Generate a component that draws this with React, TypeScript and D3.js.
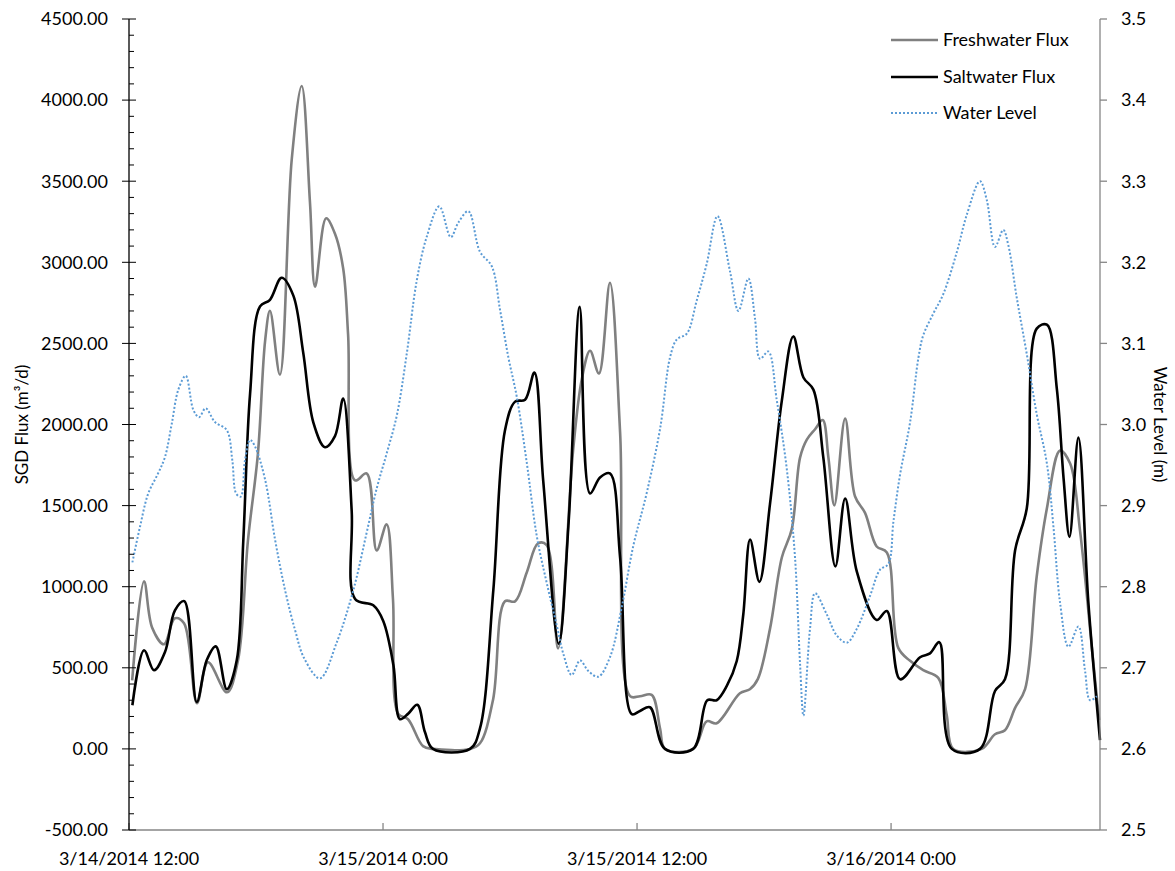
import React from "react";
import * as d3 from "d3";

// Hours after 3/14/2014 12:00 and values
const freshHours = [0.15, 0.71, 1.09, 1.65, 2.17, 2.6, 3.21, 3.73, 4.63, 5.15, 5.62, 6.09, 6.43, 6.66, 7.13, 7.69, 8.16, 8.55, 8.79, 9.31, 9.73, 10.12, 10.35, 10.68, 11.23, 11.7, 12.17, 12.47, 12.72, 13.18, 13.89, 14.36, 16.11, 16.58, 17.2, 17.76, 18.24, 18.79, 19.32, 19.73, 20.27, 20.98, 21.39, 21.78, 22.2, 22.72, 23.2, 23.67, 24.14, 24.69, 25.09, 25.32, 26.65, 27.29, 27.76, 28.86, 29.33, 29.71, 30.28, 30.84, 31.31, 31.7, 32.02, 32.41, 32.77, 33.04, 33.32, 33.83, 34.3, 34.77, 35.32, 35.8, 36.34, 36.9, 37.52, 38.23, 38.63, 38.94, 40.28, 40.91, 41.38, 41.86, 42.33, 42.88, 43.36, 43.98, 44.46, 44.93, 45.54, 45.83];
const freshFlux = [423, 1033, 749, 645, 805, 774, 281, 534, 349, 546, 1285, 1821, 2516, 2701, 2307, 3638, 4087, 3367, 2849, 3271, 3176, 2960, 2554, 1655, 1698, 1224, 1384, 924, 216, 183, 17, 0, 0, 35, 305, 910, 910, 1088, 1267, 1257, 620, 1840, 2279, 2455, 2314, 2874, 1950, 325, 325, 333, 124, 0, 0, 170, 158, 343, 368, 432, 740, 1180, 1355, 1796, 1907, 1971, 2027, 1796, 1501, 2036, 1556, 1455, 1248, 1211, 623, 543, 485, 438, 207, 0, 0, 90, 115, 253, 368, 1063, 1482, 1839, 1759, 1341, 552, 177];

const saltHours = [0.16, 0.71, 1.18, 1.7, 2.17, 2.61, 3.2, 3.67, 4.1, 4.62, 5.09, 5.4, 5.72, 6.19, 6.66, 7.21, 7.76, 8.23, 8.71, 9.26, 9.73, 10.12, 10.52, 10.68, 11.54, 12.01, 12.49, 12.8, 13.18, 13.62, 13.98, 14.36, 16.11, 16.58, 17.21, 17.76, 18.24, 18.71, 19.15, 19.57, 20.3, 20.77, 21.29, 21.78, 22.25, 22.72, 23.2, 23.75, 24.14, 24.61, 25.32, 26.65, 27.32, 27.76, 28.24, 28.71, 29.02, 29.34, 29.78, 30.28, 30.84, 31.38, 31.86, 32.33, 32.8, 33.37, 33.83, 34.38, 35.32, 35.8, 36.43, 37.37, 37.84, 38.28, 38.87, 40.2, 40.91, 41.38, 41.86, 42.41, 42.88, 43.36, 43.83, 44.15, 44.43, 44.85, 45.32, 45.87];
const saltFlux = [269, 608, 485, 597, 854, 911, 289, 546, 632, 368, 546, 1285, 2190, 2728, 2769, 2905, 2796, 2443, 2012, 1860, 1928, 2160, 1467, 924, 885, 789, 517, 183, 216, 272, 104, 0, 0, 127, 977, 1963, 2141, 2153, 2320, 1649, 648, 1402, 2726, 1575, 1673, 1698, 1180, 214, 234, 257, 0, 0, 300, 300, 388, 542, 830, 1291, 1030, 1509, 2147, 2543, 2290, 2215, 1796, 1125, 1544, 1094, 795, 850, 429, 565, 589, 658, 0, 0, 357, 429, 1225, 1482, 2591, 2615, 2221, 1667, 1307, 1919, 903, 54];

const levelHours = [0.16, 0.52, 0.91, 1.38, 1.7, 2.02, 2.33, 2.68, 3.04, 3.31, 3.62, 4.06, 4.62, 4.88, 5.06, 5.28, 5.48, 5.72, 5.95, 6.43, 6.9, 7.37, 7.84, 8.27, 9.02, 9.81, 10.6, 11.23, 11.7, 12.17, 12.65, 13.12, 13.59, 14.06, 14.66, 15.2, 15.56, 16.03, 16.58, 17.14, 17.53, 17.92, 18.32, 18.79, 19.26, 19.73, 20.21, 20.52, 20.91, 21.31, 21.7, 22.17, 22.72, 23.28, 23.82, 24.46, 25.09, 25.56, 25.88, 26.35, 26.82, 27.29, 27.8, 28.39, 28.79, 29.26, 29.57, 29.81, 30.2, 30.6, 31.07, 31.46, 31.7, 31.86, 32.17, 32.41, 32.96, 33.43, 33.91, 34.38, 35.01, 35.48, 35.87, 36.11, 36.43, 36.9, 37.29, 37.52, 38.0, 38.47, 39.1, 39.57, 40.2, 40.52, 40.91, 41.3, 41.54, 41.94, 42.41, 42.88, 43.36, 43.67, 43.98, 44.38, 44.85, 45.16, 45.4, 45.72];
const levelValues = [2.83, 2.874, 2.915, 2.94, 2.96, 3.001, 3.043, 3.06, 3.018, 3.009, 3.02, 3.003, 2.993, 2.956, 2.915, 2.911, 2.956, 2.981, 2.973, 2.932, 2.858, 2.796, 2.747, 2.712, 2.687, 2.731, 2.796, 2.867, 2.921, 2.964, 3.011, 3.087, 3.177, 3.231, 3.269, 3.231, 3.249, 3.263, 3.213, 3.195, 3.141, 3.083, 3.034, 2.953, 2.863, 2.805, 2.752, 2.717, 2.691, 2.709, 2.696, 2.689, 2.713, 2.775, 2.85, 2.916, 2.995, 3.083, 3.105, 3.112, 3.153, 3.198, 3.257, 3.189, 3.14, 3.18, 3.131, 3.081, 3.09, 3.03, 2.946, 2.837, 2.705, 2.641, 2.748, 2.792, 2.766, 2.74, 2.731, 2.748, 2.789, 2.821, 2.828, 2.88, 2.939, 3.003, 3.082, 3.11, 3.137, 3.161, 3.212, 3.258, 3.3, 3.277, 3.219, 3.24, 3.221, 3.156, 3.087, 3.013, 2.952, 2.874, 2.781, 2.726, 2.751, 2.697, 2.66, 2.665];

const leftTicks = [-500, 0, 500, 1000, 1500, 2000, 2500, 3000, 3500, 4000, 4500];
const rightTicks = [2.5, 2.6, 2.7, 2.8, 2.9, 3.0, 3.1, 3.2, 3.3, 3.4, 3.5];
const xTickLabels = ["3/14/2014 12:00", "3/15/2014 0:00", "3/15/2014 12:00", "3/16/2014 0:00"];
const xTickHours = [0, 12, 24, 36];
const seriesNames = ["Freshwater Flux", "Saltwater Flux", "Water Level"];

const START = new Date(2014, 2, 14, 12, 0);
const END_HOURS = 45.87;
const toDate = (h: number) => new Date(START.getTime() + h * 3600 * 1000);

const FONT = "Lato, 'Open Sans', sans-serif";

export default function App() {
  const left = 129, right = 1100, top = 19, bottom = 830;
  const x = d3.scaleTime().domain([START, toDate(END_HOURS)]).range([left, right]);
  const yL = d3.scaleLinear().domain([-500, 4500]).range([bottom, top]);
  const yR = d3.scaleLinear().domain([2.5, 3.5]).range([bottom, top]);

  const curve = d3.curveCatmullRom.alpha(0.5);
  const fluxLine = d3.line<[number, number]>().x(d => x(toDate(d[0]))).y(d => yL(d[1])).curve(curve);
  const levelLine = d3.line<[number, number]>().x(d => x(toDate(d[0]))).y(d => yR(d[1])).curve(curve);

  const fresh = freshHours.map((h, i) => [h, freshFlux[i]] as [number, number]);
  const salt = saltHours.map((h, i) => [h, saltFlux[i]] as [number, number]);
  const level = levelHours.map((h, i) => [h, levelValues[i]] as [number, number]);

  const minorTicks = d3.range(-500, 4501, 100).filter(v => v % 500 !== 0);

  const legendY = [40, 77, 113];
  const legendStyles = [
    { stroke: "#808080", width: 2.5, dash: undefined as string | undefined },
    { stroke: "#000000", width: 2.5, dash: undefined },
    { stroke: "#5B9BD5", width: 2, dash: "2 2" },
  ];

  return (
    <div style={{ position: "absolute", left: 0, top: 0 }}>
      <svg width={1175} height={871} style={{ display: "block", background: "#fff" }} fontFamily={FONT}>
        {/* series */}
        <path d={fluxLine(fresh) || ""} fill="none" stroke="#808080" strokeWidth={2.6} />
        <path d={fluxLine(salt) || ""} fill="none" stroke="#000" strokeWidth={2.6} />
        <path d={levelLine(level) || ""} fill="none" stroke="#5B9BD5" strokeWidth={2} strokeDasharray="2 2" />

        {/* x axis */}
        <line x1={left} x2={right} y1={bottom} y2={bottom} stroke="#868686" strokeWidth={1.3} />
        {xTickHours.map((h, i) => (
          <g key={i}>
            <line x1={x(toDate(h))} x2={x(toDate(h))} y1={bottom} y2={bottom - 7} stroke="#868686" strokeWidth={1.3} />
            <text x={x(toDate(h))} y={865} textAnchor="middle" fontSize={18} fill="#000">{xTickLabels[i]}</text>
          </g>
        ))}

        {/* left axis */}
        <line x1={left} x2={left} y1={top} y2={bottom} stroke="#000" strokeWidth={1.3} />
        {minorTicks.map(v => (
          <line key={v} x1={left} x2={left + 5} y1={yL(v)} y2={yL(v)} stroke="#000" strokeWidth={1} />
        ))}
        {leftTicks.map(v => (
          <g key={v}>
            <line x1={left - 7} x2={left + 7} y1={yL(v)} y2={yL(v)} stroke="#000" strokeWidth={1} />
            <text x={108} y={yL(v)} dy="0.35em" textAnchor="end" fontSize={18} fill="#000">{v.toFixed(2)}</text>
          </g>
        ))}
        <text transform={`translate(28,${(top + bottom) / 2}) rotate(-90)`} textAnchor="middle" fontSize={17} fill="#000">
          SGD Flux (m³/d)
        </text>

        {/* right axis */}
        <line x1={right} x2={right} y1={top} y2={bottom} stroke="#868686" strokeWidth={1.3} />
        {rightTicks.map(v => (
          <g key={v}>
            <line x1={right} x2={right + 7} y1={yR(v)} y2={yR(v)} stroke="#868686" strokeWidth={1.3} />
            <text x={1121} y={yR(v)} dy="0.35em" textAnchor="start" fontSize={18} fill="#000">{v.toFixed(1)}</text>
          </g>
        ))}
        <text transform={`translate(1154,${(top + bottom) / 2}) rotate(90)`} textAnchor="middle" fontSize={17} fill="#000">
          Water Level (m)
        </text>

        {/* legend */}
        {seriesNames.map((name, i) => (
          <g key={name}>
            <line x1={891} x2={938} y1={legendY[i]} y2={legendY[i]} stroke={legendStyles[i].stroke}
              strokeWidth={legendStyles[i].width} strokeDasharray={legendStyles[i].dash} />
            <text x={943} y={legendY[i]} dy="0.35em" fontSize={18} fill="#000">{name}</text>
          </g>
        ))}
      </svg>
    </div>
  );
}
